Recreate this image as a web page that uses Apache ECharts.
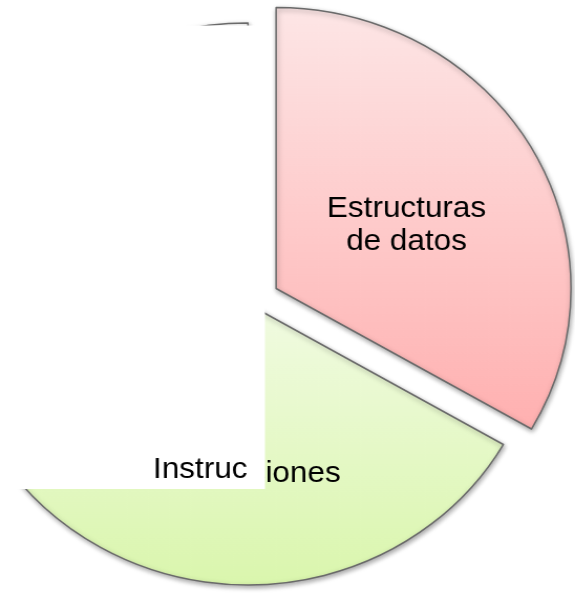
<!DOCTYPE html>
<html>
<head>
<meta charset="utf-8">
<script src="https://cdn.jsdelivr.net/npm/echarts@6/dist/echarts.min.js"></script>
<style>
  html, body { margin: 0; padding: 0; background: #fff; overflow: hidden; }
  /* the source picture is a bit wider than tall, so stretch a round pie sideways */
  #chart { width: 548px; height: 594px; transform: scaleX(1.0493); transform-origin: 0 0; }
</style>
</head>
<body>
<div id="chart"></div>
<script>
// slices, clockwise from 12 o'clock
const categories = ['Estructuras de datos', 'Instrucciones', 'Oculto']
const values = [1, 1, 1]
const labels = ['Estructuras\nde datos', 'Instrucciones', '']
const colorTop = ['#fde6e6', '#f1fbe2', '#ffffff']
const colorBottom = ['#ffb0b0', '#daf6ad', '#ffffff']
const pulledOut = [true, false, false]

const chart = echarts.init(document.getElementById('chart'))

const pieData = categories.map((name, i) => ({
  name: name,
  value: values[i],
  selected: pulledOut[i],
  itemStyle: {
    color: new echarts.graphic.LinearGradient(0, 0, 0, 1, [
      { offset: 0, color: colorTop[i] },
      { offset: 1, color: colorBottom[i] }
    ])
  },
  label: { show: labels[i] !== '', formatter: labels[i] }
}))

chart.setOption({
  animation: false,
  series: [
    {
      type: 'pie',
      center: [236.3, 304],
      radius: 281,
      startAngle: 90,
      clockwise: true,
      selectedMode: 'single',
      selectedOffset: 31,
      data: pieData,
      itemStyle: {
        borderColor: '#6a6a6a',
        borderWidth: 1.5,
        shadowColor: 'rgba(0, 0, 0, 0.35)',
        shadowBlur: 5,
        shadowOffsetX: 1,
        shadowOffsetY: 2
      },
      label: {
        position: 'inside',
        color: '#000',
        fontSize: 30,
        lineHeight: 33,
        fontFamily: 'Liberation Sans'
      },
      labelLine: { show: false },
      // nudge the labels down a little, like in the picture
      labelLayout: (p) => (p.dataIndex === 1 ? { dy: 26 } : { dy: 8 }),
      emphasis: { scale: false }
    }
  ],
  graphic: [
    // white patch pasted over the left part of the picture
    {
      type: 'rect',
      z: 100,
      shape: { x: 0, y: 25.5, width: 252.5, height: 463.5 },
      style: { fill: '#ffffff' }
    },
    {
      type: 'text',
      z: 101,
      x: 145.8,
      y: 470,
      style: {
        text: 'Instruc',
        fill: '#000',
        font: '30px "Liberation Sans"',
        verticalAlign: 'middle'
      }
    }
  ]
})

window.addEventListener('resize', () => chart.resize())
</script>
</body>
</html>
